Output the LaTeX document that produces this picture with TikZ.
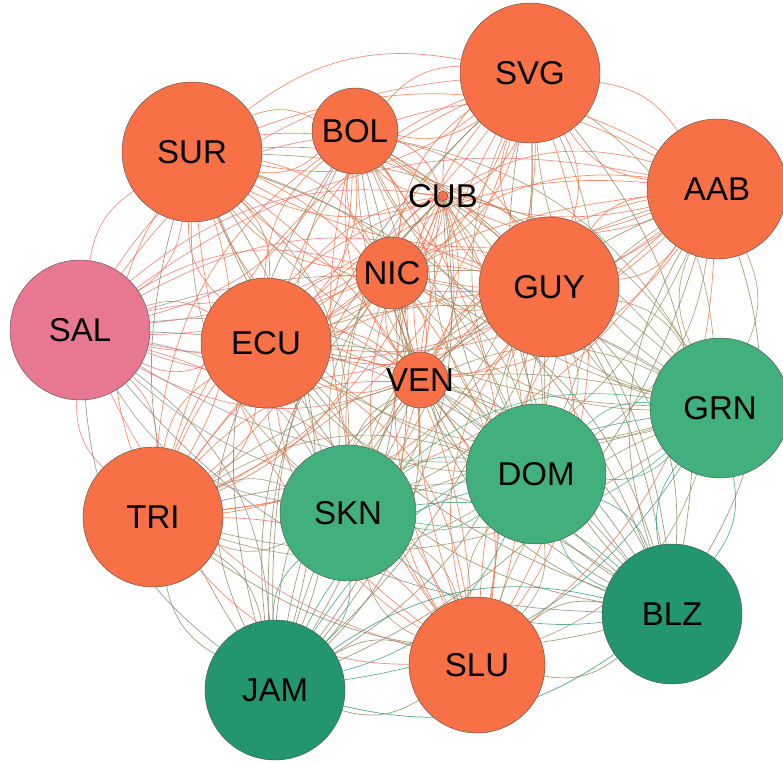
\documentclass[tikz,border=0pt]{standalone}
\usepackage{fontspec}
\setmainfont{Liberation Sans}
\usetikzlibrary{backgrounds}

\definecolor{orng}{HTML}{F77046}
\definecolor{pink}{HTML}{E87891}
\definecolor{lgrn}{HTML}{42B07D}
\definecolor{dgrn}{HTML}{23956F}

\colorlet{cSVG}{orng}
\colorlet{cBOL}{orng}
\colorlet{cSUR}{orng}
\colorlet{cAAB}{orng}
\colorlet{cCUB}{orng}
\colorlet{cNIC}{orng}
\colorlet{cGUY}{orng}
\colorlet{cSAL}{pink}
\colorlet{cECU}{orng}
\colorlet{cVEN}{orng}
\colorlet{cGRN}{lgrn}
\colorlet{cDOM}{lgrn}
\colorlet{cSKN}{lgrn}
\colorlet{cTRI}{orng}
\colorlet{cBLZ}{dgrn}
\colorlet{cSLU}{orng}
\colorlet{cJAM}{dgrn}

\tikzset{
  country/.style={circle, draw=black!70, line width=0.4pt, inner sep=0pt},
  every label/.style={font=\fontsize{33}{36}\selectfont, inner sep=0pt},
  link/.style={line width=0.7pt, opacity=0.8},
}

\def\clist{SVG,BOL,SUR,AAB,CUB,NIC,GUY,SAL,ECU,VEN,GRN,DOM,SKN,TRI,BLZ,SLU,JAM}

\begin{document}
\begin{tikzpicture}[x=1pt,y=-1pt]
	\useasboundingbox (0,0) rectangle (783,762);
	
	% countries
	\foreach \n/\x/\y/\r in {SVG/530/73/70, BOL/355/131/43, SUR/192/152/70,
	  AAB/717/189/70, CUB/443/196/5, NIC/392/273/36, GUY/549/287/70,
	  SAL/80/330/70, ECU/266/343/65, VEN/420/380/28, GRN/720/408/70,
	  DOM/536/474/70, SKN/348/513/68, TRI/153/517/70, BLZ/672/614/70,
	  SLU/477/665/68, JAM/275/690/70}
	  \node[country, fill=c\n, minimum size=2*\r, label={center:\n}] (\n) at (\x,\y) {};
	
	% links both ways between every pair
	\begin{pgfonlayer}{background}
	\foreach \a in \clist {
	  \foreach \b in \clist {
	    \ifx\a\b\else
	      \draw[link, draw=c\a!50!c\b] (\a) to[bend left=24] (\b);
	    \fi
	  }
	}
	\end{pgfonlayer}
\end{tikzpicture}
\end{document}
